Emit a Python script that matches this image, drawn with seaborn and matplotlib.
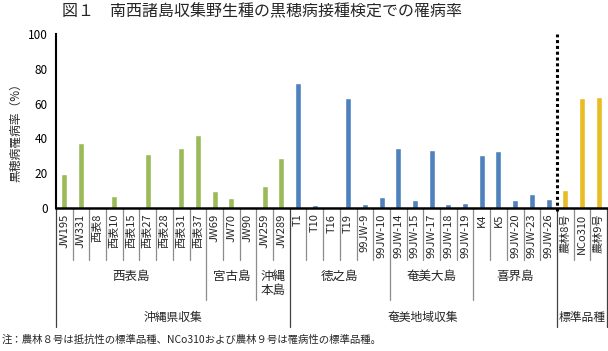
import matplotlib
matplotlib.use("Agg")
import matplotlib.pyplot as plt
import seaborn as sns
import pandas as pd
from matplotlib.transforms import blended_transform_factory

sns.set_theme(style="white")
plt.rcParams['font.family'] = ['Noto Sans CJK JP', 'DejaVu Sans']

# ---- data ----
okinawa_names = ["JW195", "JW331", "西表8", "西表10", "西表15", "西表27", "西表28",
                 "西表31", "西表37", "JW69", "JW70", "JW90", "JW259", "JW289"]
okinawa_vals = [19.5, 37.5, 0, 6.7, 0, 30.8, 0, 34.2, 41.7, 9.6, 5.6, 0, 12.4, 28.7]

amami_names = ["T1", "T10", "T16", "T19", "99JW-9", "99JW-10", "99JW-14", "99JW-15",
               "99JW-17", "99JW-18", "99JW-19", "K4", "K5", "99JW-20", "99JW-23", "99JW-26"]
amami_vals = [72.0, 1.5, 0, 63.1, 2.5, 6.3, 34.6, 4.8, 33.1, 2.5, 3.1, 30.2, 32.9, 4.4, 7.9, 5.2]

standard_names = ["農林8号", "NCo310", "農林9号"]
standard_vals = [10.2, 63.5, 64.0]

island_labels = ["西表島", "宮古島", "沖縄\n本島", "徳之島", "奄美大島", "喜界島"]
island_sizes = [9, 3, 2, 6, 5, 5]
region_labels = ["沖縄県収集", "奄美地域収集", "標準品種"]
region_sizes = [14, 16, 3]

title = "図１　南西諸島収集野生種の黒穂病接種検定での罹病率"
ylabel = "黒穂病罹病率（%）"
note = "注：農林８号は抵抗性の標準品種、NCo310および農林９号は罹病性の標準品種。"
yticks = [0, 20, 40, 60, 80, 100]

colors = {"沖縄県収集": "#9BBB59", "奄美地域収集": "#4F81BD", "標準品種": "#E8BC22"}

names = okinawa_names + amami_names + standard_names
vals = okinawa_vals + amami_vals + standard_vals
groups = (["沖縄県収集"] * len(okinawa_names) + ["奄美地域収集"] * len(amami_names)
          + ["標準品種"] * len(standard_names))
df = pd.DataFrame({"name": names, "value": vals, "group": groups})

W, H = 608, 351
fig = plt.figure(figsize=(W / 100, H / 100), dpi=100)
ax = fig.add_axes([56 / W, (H - 208) / H, 551 / W, 174 / H])

sns.barplot(data=df, x="name", y="value", hue="group", palette=colors,
            dodge=False, width=0.36, legend=False, ax=ax, order=names,
            saturation=1)

n = len(names)
ax.set_xlim(-0.5, n - 0.5)
ax.set_ylim(0, 100)
ax.set_yticks(yticks)
ax.tick_params(axis="y", labelsize=8.5, length=4, width=1, direction="inout", pad=4, colors="#000000")
ax.set_xticks(range(n))
ax.set_xticklabels(names, rotation=90, fontsize=8)
ax.tick_params(axis="x", length=0, pad=4)
for lbl in ax.get_xticklabels():
    lbl.set_va("top")
ax.set_xlabel("")
ax.set_ylabel(ylabel, fontsize=8.5)
ax.yaxis.set_label_coords(-0.062, 0.45)
sns.despine(ax=ax)
ax.spines["left"].set_linewidth(1.5)
ax.spines["left"].set_color("black")
ax.spines["bottom"].set_linewidth(1.8)
ax.spines["bottom"].set_color("black")

# axes fraction helper from pixel y
def fy(p):
    return (208 - p) / 174.0

tr = blended_transform_factory(ax.transData, ax.transAxes)

# boundaries
island_bounds = []
s = 0
for sz in island_sizes:
    s += sz
    island_bounds.append(s)
region_bounds = []
s = 0
for sz in region_sizes:
    s += sz
    region_bounds.append(s)

for b in range(0, n + 1):
    x = b - 0.5
    if b == 0 or b in region_bounds:
        y_end = fy(327)
        col = "#404040"
    elif b in island_bounds:
        y_end = fy(300)
        col = "#8c8c8c"
    else:
        y_end = fy(260)
        col = "#8c8c8c"
    ax.plot([x, x], [0, y_end], transform=tr, color=col, lw=0.9, clip_on=False)

# island labels
start = 0
for lab, sz in zip(island_labels, island_sizes):
    cx = start + (sz - 1) / 2
    ax.text(cx, fy(270), lab, transform=tr, ha="center", va="top", fontsize=9,
            linespacing=1.1, clip_on=False)
    start += sz

# region labels
start = 0
for lab, sz in zip(region_labels, region_sizes):
    cx = start + (sz - 1) / 2
    ax.text(cx, fy(317), lab, transform=tr, ha="center", va="center", fontsize=8.5,
            clip_on=False)
    start += sz

# dotted separator before standard varieties
sep = len(okinawa_names) + len(amami_names) - 0.5
ax.plot([sep, sep], [fy(211), 1.0], transform=tr, color="black", lw=2.2,
        linestyle=(0, (1, 0.9)), dash_capstyle="butt", clip_on=False, zorder=5)

fig.text(262 / W, 1 - 12 / H, title, ha="center", va="center", fontsize=11.5)
fig.text(2 / W, 1 - 340 / H, note, ha="left", va="center", fontsize=7.5)

fig.savefig("out.png", dpi=100)
